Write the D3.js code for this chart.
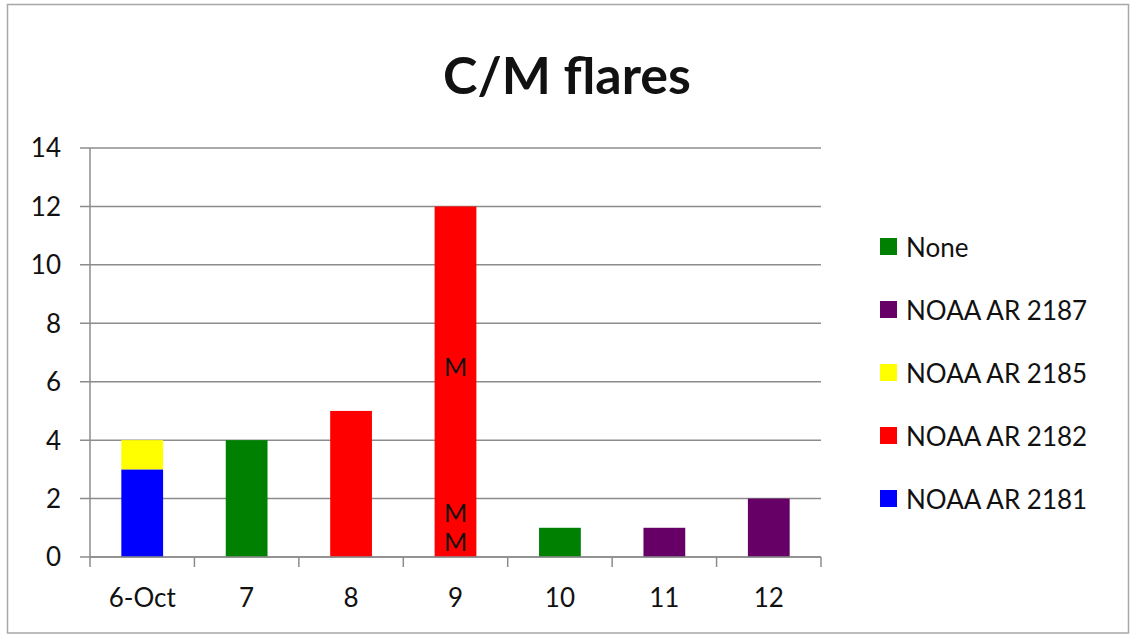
<!DOCTYPE html>
<html><head><meta charset="utf-8">
<script src="https://cdn.jsdelivr.net/npm/d3@7"></script>
<style>body{margin:0;background:#fff}svg{display:block}text{font-family:Lato,"Liberation Sans",sans-serif}</style>
</head><body>
<svg id="c" width="1131" height="635"></svg>
<script>
const categories = ["6-Oct","7","8","9","10","11","12"];
const seriesNames = ["NOAA AR 2181","NOAA AR 2182","NOAA AR 2185","NOAA AR 2187","None"];
const ar2181 = [3,0,0,0,0,0,0];
const ar2182 = [0,0,5,12,0,0,0];
const ar2185 = [1,0,0,0,0,0,0];
const ar2187 = [0,0,0,0,0,1,2];
const none   = [0,4,0,0,1,0,0];
const colors = ["#0000ff","#ff0000","#ffff00","#660066","#008000"];
const yTicks = [0,2,4,6,8,10,12,14];
// M-class flare annotations: category, flare slot index (0-based from bottom)
const mCategory = ["9","9","9"];
const mSlot = [0,1,6];
const title = "C/M flares";

const svg = d3.select("#c");
svg.append("rect").attr("x",7.5).attr("y",4.5).attr("width",1121).attr("height",628.5)
  .attr("fill","#fff").attr("stroke","#a8a8a8").attr("stroke-width",1.5);

const L=90,R=821,T=148,B=557;
const x = d3.scaleBand().domain(categories).range([L,R]).paddingInner(0.6).paddingOuter(0.3);
const xb = d3.scaleBand().domain(categories).range([L,R]);
const y = d3.scaleLinear().domain([0,14]).range([B,T]);

const table = categories.map((c,i)=>({cat:c,"NOAA AR 2181":ar2181[i],"NOAA AR 2182":ar2182[i],"NOAA AR 2185":ar2185[i],"NOAA AR 2187":ar2187[i],"None":none[i]}));
const stacked = d3.stack().keys(seriesNames)(table);

const g = svg.append("g");
g.selectAll("line.grid").data(yTicks).join("line")
  .attr("x1",L-10).attr("x2",R).attr("y1",d=>y(d)).attr("y2",d=>y(d))
  .attr("stroke","#8c8c8c").attr("stroke-width",1.5);
g.selectAll("text.yl").data(yTicks).join("text")
  .attr("x",61).attr("y",d=>y(d)).attr("dy","0.36em").attr("text-anchor","end")
  .attr("font-size",26).attr("fill","#111").text(d=>d);
g.append("line").attr("x1",L).attr("x2",L).attr("y1",T).attr("y2",B).attr("stroke","#8c8c8c").attr("stroke-width",1.5);

stacked.forEach((s,si)=>{
  svg.append("g").selectAll("rect").data(s.filter(d=>d[1]-d[0]>0)).join("rect")
    .attr("x",d=>x(d.data.cat)).attr("width",x.bandwidth())
    .attr("y",d=>y(d[1])).attr("height",d=>y(d[0])-y(d[1]))
    .attr("fill",colors[si]);
});

svg.append("g").selectAll("text").data(mSlot.map((s,i)=>({c:mCategory[i],s}))).join("text")
  .attr("x",d=>x(d.c)+x.bandwidth()/2).attr("y",d=>y(d.s+0.5)).attr("dy","0.36em")
  .attr("text-anchor","middle").attr("font-size",25).attr("fill","#111").text("M");

const xg = svg.append("g");
xg.append("line").attr("x1",L).attr("x2",R).attr("y1",B).attr("y2",B).attr("stroke","#8c8c8c").attr("stroke-width",1.5);
const bounds = categories.map(c=>xb(c)).concat([R]);
xg.selectAll("line.t").data(bounds).join("line")
  .attr("x1",d=>d).attr("x2",d=>d).attr("y1",B).attr("y2",B+10).attr("stroke","#8c8c8c").attr("stroke-width",1.5);
xg.selectAll("text").data(categories).join("text")
  .attr("x",d=>xb(d)+xb.bandwidth()/2).attr("y",598).attr("dy","0.36em").attr("text-anchor","middle")
  .attr("font-size",26).attr("fill","#111").text(d=>d);

svg.append("text").attr("x",567).attr("y",94).attr("text-anchor","middle")
  .attr("font-size",52).attr("font-weight","bold").attr("fill","#111").text(title);

const legendOrder = seriesNames.map((n,i)=>({n,c:colors[i]})).reverse();
const lg = svg.append("g").selectAll("g").data(legendOrder).join("g")
  .attr("transform",(d,i)=>`translate(880,${248+i*63})`);
lg.append("rect").attr("x",0).attr("y",-10).attr("width",17).attr("height",17).attr("fill",d=>d.c);
lg.append("text").attr("x",26).attr("y",0).attr("dy","0.36em").attr("font-size",26).attr("fill","#111").text(d=>d.n);
</script>
</body></html>
